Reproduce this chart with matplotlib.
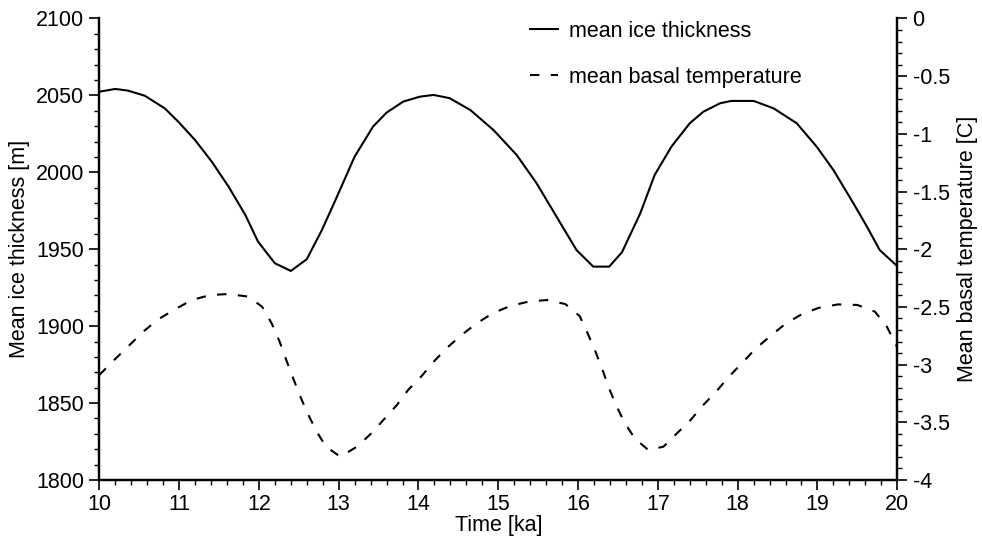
import matplotlib
matplotlib.use("Agg")
import matplotlib.pyplot as plt
from matplotlib.ticker import MultipleLocator

plt.rcParams['font.family'] = ['Liberation Sans', 'DejaVu Sans']
plt.rcParams['axes.unicode_minus'] = False

# mean ice thickness [m] against time [ka]
t_thick = [10.0, 10.2, 10.36, 10.57, 10.82, 10.99, 11.2, 11.41, 11.62, 11.83,
           11.99, 12.2, 12.4, 12.6, 12.79, 12.96, 13.2, 13.43, 13.6, 13.81,
           14.02, 14.19, 14.39, 14.65, 14.94, 15.23, 15.48, 15.73, 15.98, 16.19,
           16.39, 16.55, 16.78, 16.96, 17.17, 17.4, 17.57, 17.78, 17.92, 18.2,
           18.45, 18.74, 18.99, 19.2, 19.45, 19.62, 19.78, 20.0]
thick = [2052.4, 2054.2, 2053.1, 2049.8, 2041.6, 2032.9, 2021.0, 2006.9, 1990.7, 1972.3,
         1954.9, 1940.9, 1935.9, 1943.5, 1962.5, 1982.0, 2010.2, 2029.7, 2038.8, 2046.0,
         2049.2, 2050.3, 2048.2, 2040.5, 2027.5, 2011.3, 1992.9, 1971.2, 1949.5, 1938.7,
         1938.7, 1948.0, 1973.4, 1998.3, 2016.7, 2031.9, 2039.4, 2044.9, 2046.4, 2046.4,
         2041.6, 2031.9, 2016.7, 2001.5, 1979.9, 1964.7, 1949.5, 1939.0]

# mean basal temperature [C] against time [ka]
t_temp = [10.0, 10.22, 10.38, 10.56, 10.74, 10.95, 11.16, 11.39, 11.62, 11.87,
          12.04, 12.16, 12.26, 12.34, 12.43, 12.52, 12.61, 12.72, 12.84, 13.02,
          13.23, 13.41, 13.56, 13.73, 13.87, 14.04, 14.19, 14.36, 14.54, 14.73,
          14.93, 15.15, 15.38, 15.61, 15.84, 16.02, 16.12, 16.21, 16.3, 16.38,
          16.47, 16.58, 16.71, 16.88, 17.07, 17.24, 17.41, 17.57, 17.74, 17.89,
          18.06, 18.22, 18.4, 18.59, 18.8, 19.02, 19.26, 19.5, 19.72, 19.87, 20.0]
temp = [-3.09, -2.937, -2.83, -2.709, -2.607, -2.52, -2.44, -2.397, -2.388, -2.411,
        -2.498, -2.642, -2.801, -2.954, -3.119, -3.278, -3.422, -3.575, -3.711, -3.798,
        -3.711, -3.595, -3.48, -3.35, -3.22, -3.099, -2.975, -2.853, -2.743, -2.642,
        -2.555, -2.492, -2.454, -2.44, -2.475, -2.579, -2.729, -2.873, -3.032, -3.191,
        -3.341, -3.5, -3.639, -3.74, -3.711, -3.595, -3.48, -3.35, -3.226, -3.105,
        -2.983, -2.865, -2.758, -2.651, -2.564, -2.507, -2.478, -2.483, -2.541, -2.671, -2.85]

FS = 15.5

fig = plt.figure(figsize=(9.82, 5.42), dpi=100)
ax = fig.add_axes([0.1011, 0.1144, 0.8126, 0.8515])
ax2 = ax.twinx()

l1, = ax.plot(t_thick, thick, color='black', lw=1.5, label='mean ice thickness')
l2, = ax2.plot(t_temp, temp, color='black', lw=1.5, linestyle=(0, (4.5, 5.5)),
               label='mean basal temperature')

ax.set_xlim(10, 20)
ax.set_ylim(1800, 2100)
ax2.set_ylim(-4, 0)

ax.xaxis.set_major_locator(MultipleLocator(1))
ax.xaxis.set_minor_locator(MultipleLocator(0.2))
ax.yaxis.set_major_locator(MultipleLocator(50))
ax.yaxis.set_minor_locator(MultipleLocator(10))
ax2.yaxis.set_major_locator(MultipleLocator(0.5))
ax2.yaxis.set_minor_locator(MultipleLocator(0.1))
ax2.yaxis.set_major_formatter(plt.FuncFormatter(lambda v, p: '%g' % v))

for a in (ax, ax2):
    a.spines['top'].set_visible(False)
    for s in a.spines.values():
        s.set_linewidth(1.6)
    a.tick_params(which='major', direction='out', length=7, width=1.2, labelsize=FS, pad=4)
    a.tick_params(which='minor', direction='out', length=3.5, width=1.0)
ax.tick_params(axis='x', which='major', pad=3)

ax.set_xlabel('Time [ka]', fontsize=FS, labelpad=0)
ax.set_ylabel('Mean ice thickness [m]', fontsize=FS, labelpad=4)
ax2.set_ylabel('Mean basal temperature [C]', fontsize=FS, labelpad=5)

ax2.legend(handles=[l1, l2], loc='upper left', bbox_to_anchor=(530 / 982, 1 - 21 / 542),
           bbox_transform=fig.transFigure, frameon=False, fontsize=FS,
           handlelength=1.3, handletextpad=0.5, labelspacing=1.15,
           borderpad=0, borderaxespad=0)

fig.savefig('out.png', dpi=100)
